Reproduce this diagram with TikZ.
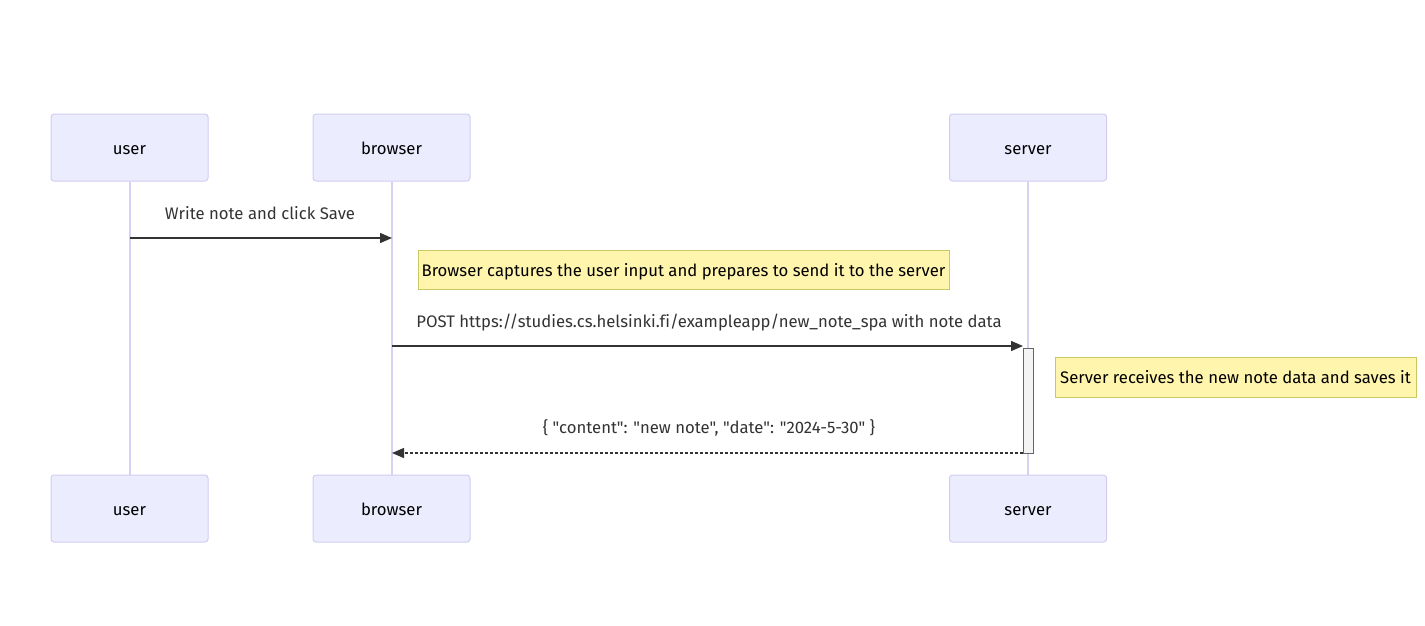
\documentclass[tikz,border=0pt]{standalone}
\usepackage{fontspec}
\setmainfont{Fira Sans}[Ligatures={TeXOff,NoCommon}]
\usetikzlibrary{arrows.meta}
\definecolor{actfill}{HTML}{ECECFF}
\definecolor{actdraw}{HTML}{D2CCF2}
\definecolor{lifeline}{HTML}{D8D0F2}
\definecolor{notefill}{HTML}{FFF5AD}
\definecolor{notedraw}{HTML}{C8C864}
\definecolor{msg}{HTML}{333333}
\definecolor{actvfill}{HTML}{F4F4F4}
\definecolor{actvdraw}{HTML}{666666}
\newcommand{\txtfont}{\fontsize{16.7}{20}\selectfont}
\tikzset{
  actor/.style={draw=actdraw, fill=actfill, rounded corners=3pt, minimum width=157pt, minimum height=67pt, line width=1pt, font=\txtfont, text=black, text height=14pt, text depth=1pt},
  life/.style={draw=lifeline, line width=2pt},
  note/.style={draw=notedraw, fill=notefill, line width=1pt, inner sep=0pt, font=\txtfont, text=black, text height=14pt, text depth=1pt},
  msgline/.style={draw=msg, line width=1.4pt, -{Triangle[length=12pt,width=10pt]}},
  lbl/.style={font=\txtfont, text=msg, inner sep=0pt, text height=14pt, text depth=1pt},
  actv/.style={draw=actvdraw, fill=actvfill, line width=0.8pt, minimum width=10pt, minimum height=105pt, inner sep=0pt}
}
\begin{document}
\begin{tikzpicture}[x=1pt,y=-1pt]
\useasboundingbox (0,0) rectangle (1425,625);
% actors
\node[actor] (ut) at (129.5,147.5) {user};
\node[actor] (bt) at (391.5,147.5) {browser};
\node[actor] (st) at (1028,147.5) {server};
\node[actor] (ub) at (129.5,508.5) {user};
\node[actor] (bb) at (391.5,508.5) {browser};
\node[actor] (sb) at (1028,508.5) {server};
% lifelines
\draw[life] (ut.south) -- (ub.north);
\draw[life] (bt.south) -- (bb.north);
\draw[life] (st.south) -- (sb.north);
% activation
\node[actv] (act) at (1028,400.5) {};
% coordinates on lifelines
\coordinate (u1) at (130,238);
\coordinate (b1) at (392,238);
\coordinate (b2) at (392,346);
\coordinate (s2) at (1023,346);
\coordinate (s3) at (1023,453);
\coordinate (b3) at (392,453);
% message 1
\draw[msgline] (u1) -- (b1);
\node[lbl] (m1) at (260,213) {Write note and click Save};
% note 1
\node[note, minimum width=531pt, minimum height=39pt] (n1) at (683.5,269.5) {Browser captures the user input and prepares to send it to the server};
% message 2
\draw[msgline] (b2) -- (s2);
\node[lbl] (m2) at (709,321) {POST https://studies.cs.helsinki.fi/exampleapp/new\_note\_spa with note data};
% note 2
\node[note, minimum width=361pt, minimum height=40pt] (n2) at (1235.5,377) {Server receives the new note data and saves it};
% message 3
\draw[msgline, dash pattern=on 3pt off 2pt] (s3) -- (b3);
\node[lbl] (m3) at (709,427) {\{ "content": "new note", "date": "2024-5-30" \}};
\end{tikzpicture}
\end{document}
